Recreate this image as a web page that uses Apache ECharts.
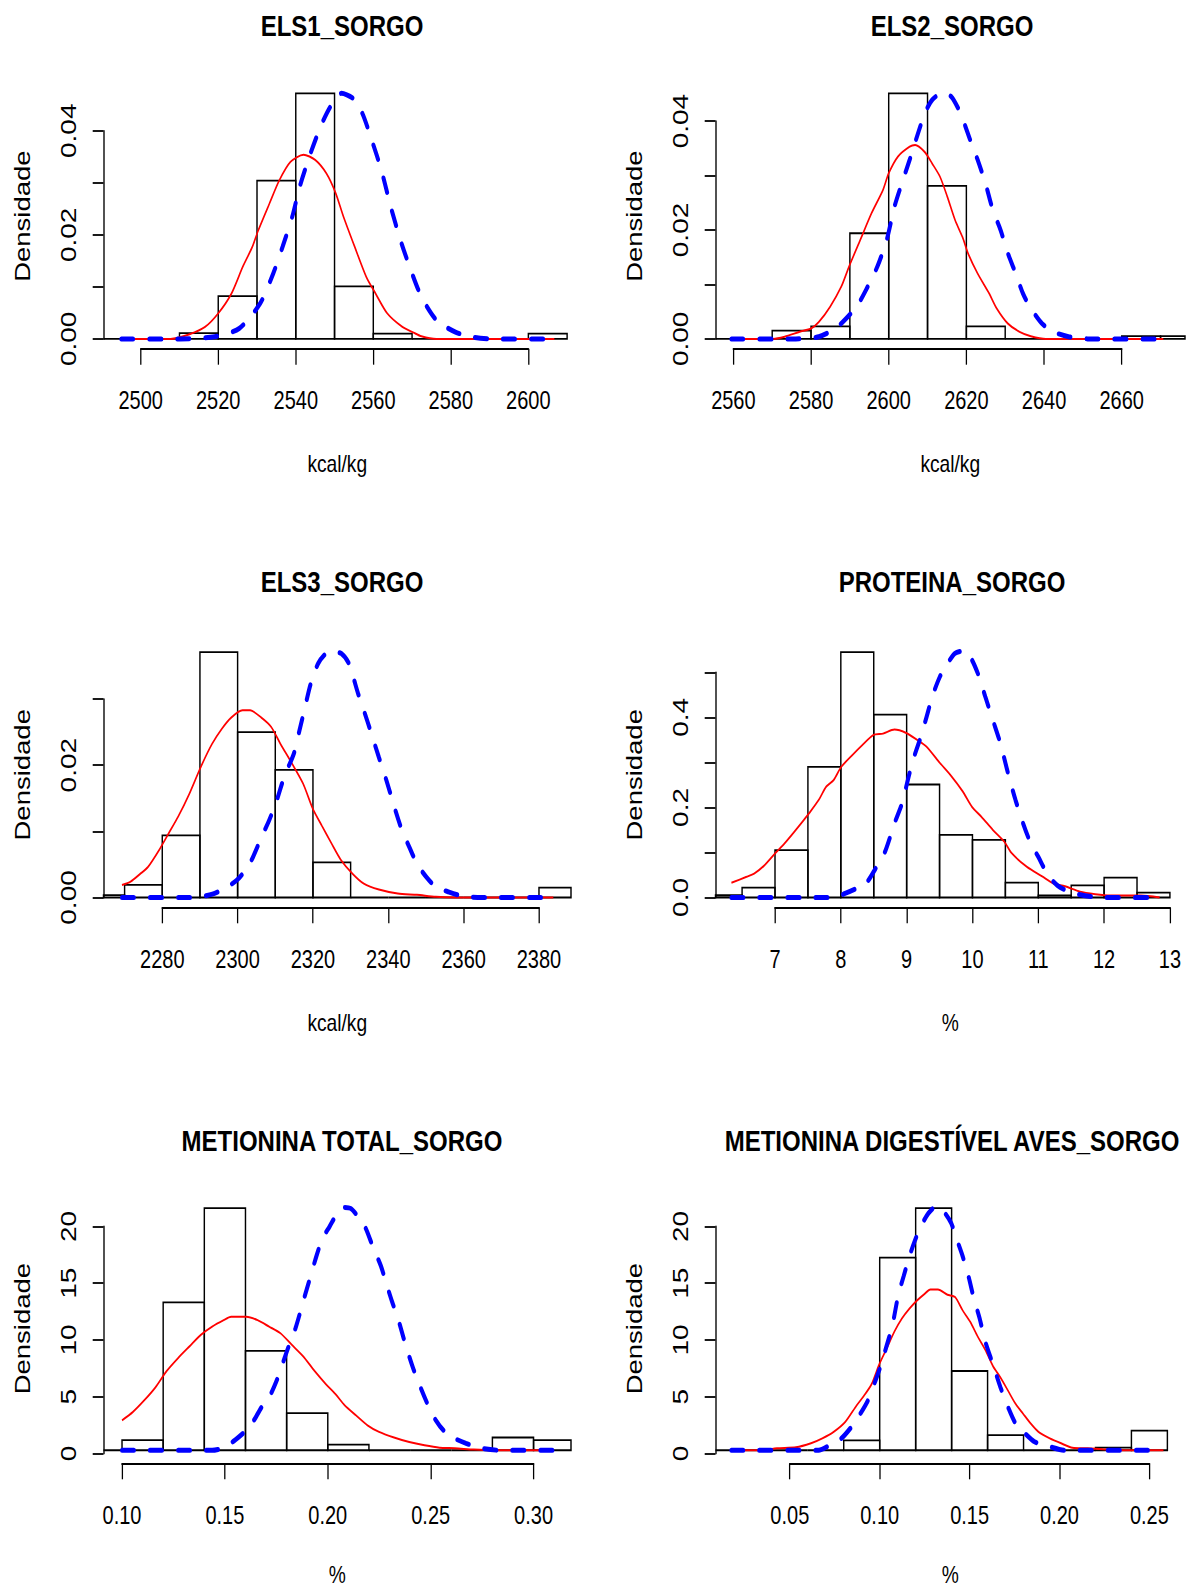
<!DOCTYPE html>
<html>
<head>
<meta charset="utf-8">
<title>Sorgo - histogramas</title>
<script src="https://cdn.jsdelivr.net/npm/echarts@6/dist/echarts.min.js"></script>
<style>
  html, body { margin: 0; padding: 0; background: #fff; overflow: hidden; }
  /* the original figure is squeezed horizontally (narrow lettering), so draw wide and squeeze */
  #chart { width: 1489px; height: 1588px; transform: scaleX(0.8); transform-origin: 0 0; }
</style>
</head>
<body>
<div id="chart"></div>
<script>
// ---- data ----
// ELS1_SORGO
var els1Edges = [2490, 2500, 2510, 2520, 2530, 2540, 2550, 2560, 2570, 2580, 2590, 2600, 2610];
var els1Dens = [0, 0, 0.0011, 0.0082, 0.0304, 0.0472, 0.0101, 0.001, 0, 0, 0, 0.001];
var els1Kde = [[2496,0],[2507.7,0],[2512.6,0.0009],[2516.6,0.0023],[2520,0.0049],[2523.4,0.0087],[2526.3,0.0138],[2528.8,0.0177],[2530.3,0.0208],[2533.2,0.026],[2535.7,0.0304],[2538.6,0.034],[2542,0.0354],[2545,0.0344],[2547.9,0.0318],[2550.3,0.028],[2552.3,0.0235],[2555.2,0.0177],[2558.2,0.0119],[2560.6,0.0087],[2563.6,0.0049],[2567.5,0.0023],[2570.4,0.0012],[2572.4,0.0005],[2576.3,0],[2606.7,0]];
var els1Norm = [[2495,0],[2510.2,0],[2519,0.0004],[2525.4,0.002],[2530.8,0.0068],[2534.2,0.0126],[2536.6,0.0177],[2539.1,0.0235],[2541,0.0292],[2543.5,0.035],[2546.4,0.0408],[2548.9,0.0446],[2551.8,0.0472],[2554.8,0.0462],[2557.2,0.0433],[2559.6,0.0382],[2562.1,0.0324],[2564.5,0.0254],[2567,0.019],[2569.4,0.0138],[2572.4,0.0081],[2576.3,0.0036],[2581.2,0.0013],[2586.1,0.0003],[2591,0],[2605.7,0]];

// ELS2_SORGO
var els2Edges = [2550, 2560, 2570, 2580, 2590, 2600, 2610, 2620, 2630, 2640, 2650, 2660, 2670, 2680];
var els2Dens = [0, 0, 0.0015, 0.0023, 0.0194, 0.0451, 0.0281, 0.0023, 0, 0, 0, 0.0005, 0.0005];
var els2Kde = [[2560,0],[2570.2,0],[2573.2,0.0004],[2577.1,0.0013],[2580,0.0019],[2582,0.0031],[2584.9,0.0059],[2587.8,0.0096],[2589.8,0.0133],[2592.7,0.0182],[2595.6,0.0231],[2598.5,0.0273],[2600,0.0304],[2602.4,0.0335],[2605.4,0.0353],[2606.8,0.0356],[2609.3,0.0343],[2611.2,0.0322],[2613.2,0.0298],[2615.1,0.0261],[2617.1,0.0218],[2619,0.0187],[2620.5,0.0156],[2622.9,0.012],[2625.9,0.0083],[2627.8,0.0056],[2630.7,0.0028],[2633.7,0.0013],[2636.6,0.0005],[2640.5,0],[2670.7,0]];
var els2Norm = [[2559.5,0],[2576.1,0],[2582,0.0004],[2586.8,0.0022],[2591.7,0.0059],[2594.6,0.0096],[2597.1,0.0133],[2599.5,0.0182],[2601.5,0.0243],[2603.4,0.0286],[2605.4,0.0329],[2607.3,0.0372],[2609.3,0.0414],[2611.2,0.0439],[2613.7,0.0451],[2616.1,0.0445],[2618.5,0.0414],[2621,0.0365],[2622.9,0.0329],[2624.9,0.0286],[2626.8,0.0237],[2628.8,0.02],[2630.7,0.0157],[2632.7,0.012],[2634.6,0.0083],[2636.6,0.0056],[2639.5,0.0028],[2642.4,0.0013],[2646.3,0.0004],[2651.2,0],[2670.7,0]];

// ELS3_SORGO
var els3Edges = [2260, 2270, 2280, 2290, 2300, 2310, 2320, 2330, 2340, 2350, 2360, 2370, 2380, 2390];
var els3Dens = [0.00035, 0.0019, 0.0094, 0.0371, 0.025, 0.0193, 0.0053, 0, 0, 0, 0, 0, 0.0015];
var els3Kde = [[2269.3,0.0019],[2271.6,0.0024],[2274.2,0.0036],[2276.2,0.0046],[2279.2,0.0072],[2281.7,0.0097],[2284.2,0.0122],[2287.2,0.0157],[2290.2,0.0197],[2293.2,0.0232],[2295.8,0.0255],[2298.3,0.0272],[2301.3,0.0283],[2303.3,0.0283],[2306.3,0.0272],[2308.9,0.0258],[2311.4,0.0232],[2314.4,0.0203],[2317.4,0.0172],[2319.9,0.0135],[2322.4,0.0108],[2324.9,0.0082],[2327.4,0.0057],[2330.5,0.0036],[2333.5,0.0021],[2337.5,0.0012],[2342.5,0.0006],[2347.6,0.0004],[2352.6,0.0001],[2357.7,0],[2383.8,0]];
var els3Norm = [[2269.3,0],[2288.2,0],[2293.3,0.0005],[2297.3,0.0016],[2300.3,0.0029],[2303.3,0.0052],[2306.4,0.0092],[2308.4,0.0117],[2310.4,0.0147],[2312.4,0.0183],[2314.9,0.0217],[2316.4,0.0252],[2317.9,0.0288],[2319.4,0.0323],[2321.4,0.0354],[2323.5,0.0369],[2325.5,0.0371],[2327.5,0.0369],[2329.5,0.0354],[2332,0.0308],[2333.5,0.0283],[2335.5,0.0248],[2337.5,0.0212],[2339.5,0.0177],[2341.6,0.0137],[2343.6,0.0102],[2345.6,0.0076],[2347.6,0.0051],[2350.1,0.0031],[2352.6,0.0016],[2355.7,0.0009],[2359.7,0.0002],[2364.7,0],[2382.8,0]];

// PROTEINA_SORGO
var protEdges = [6, 6.5, 7, 7.5, 8, 8.5, 9, 9.5, 10, 10.5, 11, 11.5, 12, 12.5, 13];
var protDens = [0.005, 0.022, 0.105, 0.29, 0.545, 0.406, 0.251, 0.139, 0.128, 0.033, 0.0045, 0.027, 0.044, 0.011];
var protKde = [[6.338,0.0326],[6.568,0.0459],[6.683,0.053],[6.827,0.0696],[7.0,0.0978],[7.144,0.12],[7.288,0.145],[7.432,0.171],[7.518,0.187],[7.662,0.216],[7.777,0.246],[7.892,0.261],[8.006,0.29],[8.18,0.317],[8.324,0.338],[8.497,0.361],[8.641,0.364],[8.814,0.373],[8.986,0.366],[9.159,0.35],[9.303,0.335],[9.504,0.299],[9.677,0.27],[9.85,0.236],[9.994,0.201],[10.138,0.179],[10.31,0.15],[10.483,0.124],[10.598,0.098],[10.828,0.068],[11.059,0.047],[11.231,0.031],[11.404,0.025],[11.634,0.013],[11.865,0.0074],[12.095,0.0044],[12.556,0.0044],[12.843,0]];
var protNorm = [[6.338,0],[7.892,0],[8.065,0.0089],[8.238,0.02],[8.382,0.031],[8.526,0.064],[8.67,0.101],[8.814,0.164],[8.929,0.209],[9.044,0.276],[9.13,0.32],[9.216,0.357],[9.303,0.401],[9.389,0.446],[9.504,0.49],[9.619,0.519],[9.734,0.542],[9.879,0.548],[9.994,0.527],[10.109,0.487],[10.195,0.446],[10.31,0.394],[10.425,0.342],[10.54,0.276],[10.655,0.216],[10.771,0.164],[10.886,0.12],[11.001,0.09],[11.145,0.05],[11.289,0.027],[11.462,0.013],[11.692,0.0044],[11.98,0],[12.786,0]];

// METIONINA TOTAL_SORGO
var metEdges = [0.08, 0.10, 0.12, 0.14, 0.16, 0.18, 0.20, 0.22, 0.24, 0.26, 0.28, 0.30, 0.32];
var metDens = [0, 0.91, 13.2, 21.6, 8.86, 3.31, 0.5, 0, 0, 0, 1.14, 0.91];
var metKde = [[0.1,2.67],[0.1052,3.4],[0.1107,4.43],[0.1162,5.6],[0.1217,7.07],[0.1273,8.24],[0.1328,9.27],[0.1383,10.29],[0.1438,11.03],[0.1494,11.61],[0.153,11.91],[0.1604,11.91],[0.1659,11.61],[0.1715,11.03],[0.177,10.44],[0.1825,9.41],[0.188,8.39],[0.1936,7.07],[0.1991,5.9],[0.2037,5.02],[0.2083,3.99],[0.2138,3.1],[0.2193,2.23],[0.2249,1.64],[0.2322,1.14],[0.2396,0.73],[0.247,0.44],[0.2543,0.23],[0.2617,0.18],[0.2709,0.06],[0.2801,0],[0.3096,0]];
var metNorm = [[0.1,0],[0.1438,0],[0.1494,0.23],[0.1549,0.91],[0.1604,1.79],[0.1641,2.67],[0.1678,3.84],[0.1715,4.72],[0.1751,6.19],[0.1779,7.65],[0.1807,9.12],[0.1843,10.88],[0.1871,12.64],[0.1889,13.81],[0.1917,15.57],[0.1945,17.33],[0.1972,18.8],[0.2009,19.97],[0.2046,21.14],[0.2074,21.67],[0.2111,21.58],[0.2147,20.85],[0.2184,19.82],[0.2221,18.06],[0.2258,16.45],[0.2285,14.84],[0.2313,13.23],[0.2341,11.76],[0.2378,9.41],[0.2414,7.36],[0.2451,5.6],[0.2488,3.99],[0.2525,2.67],[0.2562,1.79],[0.2617,1.06],[0.2672,0.62],[0.2746,0.18],[0.2838,0],[0.3096,0]];

// METIONINA DIGESTIVEL AVES_SORGO
var metDigEdges = [0, 0.02, 0.04, 0.06, 0.08, 0.10, 0.12, 0.14, 0.16, 0.18, 0.20, 0.22, 0.24, 0.26];
var metDigDens = [0, 0, 0, 0, 0.88, 17.18, 21.61, 7.07, 1.35, 0, 0, 0.23, 1.76];
var metDigKde = [[0.0175,0],[0.0344,0],[0.0428,0.18],[0.0534,0.26],[0.0618,0.62],[0.0681,1.06],[0.0744,1.64],[0.0808,2.52],[0.0871,3.99],[0.0913,4.87],[0.0955,5.9],[0.0997,7.65],[0.104,9.12],[0.1082,10.59],[0.1124,11.76],[0.1166,12.64],[0.1208,13.37],[0.125,13.96],[0.1282,14.34],[0.1324,14.34],[0.1377,13.87],[0.1419,13.67],[0.1461,12.49],[0.1503,11.47],[0.1545,10.15],[0.1587,8.97],[0.163,7.51],[0.1672,6.48],[0.1714,5.31],[0.1756,4.13],[0.1798,3.25],[0.184,2.38],[0.1883,1.64],[0.1946,1.06],[0.2009,0.62],[0.2072,0.23],[0.2157,0.18],[0.2241,0.09],[0.2367,0],[0.2578,0]];
var metDigNorm = [[0.0175,0],[0.066,0],[0.0723,0.47],[0.0787,1.06],[0.085,2.23],[0.0892,3.25],[0.0934,4.43],[0.0976,6.19],[0.1008,7.65],[0.104,9.41],[0.1071,11.17],[0.1103,13.81],[0.1134,15.57],[0.1166,17.33],[0.1198,18.8],[0.1229,19.97],[0.1271,21.14],[0.1313,21.73],[0.1356,21.29],[0.1398,20.26],[0.1429,18.8],[0.1461,17.33],[0.1493,15.57],[0.1524,13.52],[0.1556,11.76],[0.1587,9.71],[0.163,7.65],[0.1672,5.6],[0.1714,3.84],[0.1756,2.38],[0.1809,1.49],[0.1861,0.76],[0.1946,0.32],[0.203,0],[0.2578,0]];

// axis ticks: [first, last, step] and the y values that carry a label
var els1XTicks = [2500, 2600, 20], els1YTicks = [0.04, 0.01], els1YLabels = [0, 0.02, 0.04];
var els2XTicks = [2560, 2660, 20], els2YTicks = [0.04, 0.01], els2YLabels = [0, 0.02, 0.04];
var els3XTicks = [2280, 2380, 20], els3YTicks = [0.03, 0.01], els3YLabels = [0, 0.02];
var protXTicks = [7, 13, 1], protYTicks = [0.5, 0.1], protYLabels = [0, 0.2, 0.4];
var metXTicks = [0.10, 0.30, 0.05], metYTicks = [20, 5], metYLabels = [0, 5, 10, 15, 20];
var metDigXTicks = [0.05, 0.25, 0.05], metDigYTicks = [20, 5], metDigYLabels = [0, 5, 10, 15, 20];

// ---- layout, in pixels of the final picture ----
var SX = 0.8;                       // same as the css scaleX
var COLS = [[103.5, 571], [715.5, 1185]];
var ROWS = [[83.5, 348.7], [642.3, 907.3], [1197.3, 1463.3]];
var TITLE_X = [338, 948];
var TITLE_Y = [25, 581, 1140];
var FONT = "'Liberation Sans', Arial, sans-serif";

var panels = [
  { title: 'ELS1_SORGO', xName: 'kcal/kg', edges: els1Edges, dens: els1Dens, kde: els1Kde, norm: els1Norm,
    xRange: [2490.4, 2611.0], yLim: 0.0472, xTicks: els1XTicks, xDig: 0, yTicks: els1YTicks, yLabels: els1YLabels, yDig: 2, col: 0, row: 0 },
  { title: 'ELS2_SORGO', xName: 'kcal/kg', edges: els2Edges, dens: els2Dens, kde: els2Kde, norm: els2Norm,
    xRange: [2555.4, 2676.3], yLim: 0.0451, xTicks: els2XTicks, xDig: 0, yTicks: els2YTicks, yLabels: els2YLabels, yDig: 2, col: 1, row: 0 },
  { title: 'ELS3_SORGO', xName: 'kcal/kg', edges: els3Edges, dens: els3Dens, kde: els3Kde, norm: els3Norm,
    xRange: [2264.4, 2388.5], yLim: 0.0371, xTicks: els3XTicks, xDig: 0, yTicks: els3YTicks, yLabels: els3YLabels, yDig: 2, col: 0, row: 1 },
  { title: 'PROTEINA_SORGO', xName: '%', edges: protEdges, dens: protDens, kde: protKde, norm: protNorm,
    xRange: [6.096, 13.229], yLim: 0.545, xTicks: protXTicks, xDig: 0, yTicks: protYTicks, yLabels: protYLabels, yDig: 1, col: 1, row: 1 },
  { title: 'METIONINA TOTAL_SORGO', xName: '%', edges: metEdges, dens: metDens, kde: metKde, norm: metNorm,
    xRange: [0.091, 0.3182], yLim: 21.7, xTicks: metXTicks, xDig: 2, yTicks: metYTicks, yLabels: metYLabels, yDig: 0, col: 0, row: 2 },
  { title: 'METIONINA DIGESTÍVEL AVES_SORGO', xName: '%', edges: metDigEdges, dens: metDigDens, kde: metDigKde, norm: metDigNorm,
    xRange: [0.00868, 0.2698], yLim: 21.7, xTicks: metDigXTicks, xDig: 2, yTicks: metDigYTicks, yLabels: metDigYLabels, yDig: 0, col: 1, row: 2 }
];

// histogram bar, cut at the plot region like R does
function renderBar(params, api) {
  var p0 = api.coord([api.value(0), 0]);
  var p1 = api.coord([api.value(1), api.value(2)]);
  var cs = params.coordSys;
  var l = Math.max(p0[0], cs.x);
  var r = Math.min(p1[0], cs.x + cs.width);
  if (r <= l) return null;
  return {
    type: 'rect',
    shape: { x: l, y: p1[1], width: r - l, height: p0[1] - p1[1] },
    style: { fill: 'none', stroke: '#000', lineWidth: 1.8 }
  };
}

var grids = [], xAxes = [], yAxes = [], series = [], titles = [];

panels.forEach(function (p) {
  var L = COLS[p.col][0] / SX, R = COLS[p.col][1] / SX;
  var T = ROWS[p.row][0], B = ROWS[p.row][1];
  var W = R - L, H = B - T;
  var yMin = -0.04 * p.yLim, yMax = 1.04 * p.yLim;
  var kx = W / (p.xRange[1] - p.xRange[0]);
  var ky = H / (yMax - yMin);
  var g = grids.length;

  // plot region
  grids.push({ left: L, top: T, width: W, height: H });
  // x axis only between first and last tick
  grids.push({ left: L + (p.xTicks[0] - p.xRange[0]) * kx, top: T, width: (p.xTicks[1] - p.xTicks[0]) * kx, height: H });
  // y axis from 0 to last tick
  var yTopPx = B - (p.yTicks[0] - yMin) * ky;
  var yZeroPx = B - (0 - yMin) * ky;
  grids.push({ left: L, top: yTopPx, width: W, height: yZeroPx - yTopPx });

  xAxes.push({
    gridIndex: g, type: 'value', min: p.xRange[0], max: p.xRange[1],
    axisLine: { show: false }, axisTick: { show: false }, axisLabel: { show: false }, splitLine: { show: false },
    name: p.xName, nameLocation: 'middle', nameGap: 103,
    nameTextStyle: { fontFamily: FONT, fontSize: 24, color: '#000' }
  });
  yAxes.push({
    gridIndex: g, type: 'value', min: yMin, max: yMax,
    axisLine: { show: false }, axisTick: { show: false }, axisLabel: { show: false }, splitLine: { show: false },
    name: 'Densidade', nameLocation: 'middle', nameGap: 88,
    nameTextStyle: { fontFamily: FONT, fontSize: 27.5, color: '#000' }
  });

  xAxes.push({
    gridIndex: g + 1, type: 'value', min: p.xTicks[0], max: p.xTicks[1], interval: p.xTicks[2],
    axisLine: { onZero: false, lineStyle: { color: '#000', width: 1.8 } },
    axisTick: { length: 16, lineStyle: { color: '#000', width: 1.6 } },
    axisLabel: {
      margin: 40, fontFamily: FONT, fontSize: 25, color: '#000',
      formatter: function (v) { return v.toFixed(p.xDig); }
    },
    splitLine: { show: false }
  });
  yAxes.push({ gridIndex: g + 1, show: false, min: 0, max: 1 });

  xAxes.push({ gridIndex: g + 2, show: false, min: 0, max: 1 });
  yAxes.push({
    gridIndex: g + 2, type: 'value', min: 0, max: p.yTicks[0], interval: p.yTicks[1],
    axisLine: { onZero: false, lineStyle: { color: '#000', width: 1.7 } },
    axisTick: { length: 13.5, lineStyle: { color: '#000', width: 1.8 } },
    axisLabel: {
      rotate: 90, margin: 30, fontFamily: FONT, fontSize: 28, color: '#000',
      formatter: function (v) {
        var hit = p.yLabels.some(function (t) { return Math.abs(t - v) < 1e-9; });
        return hit ? v.toFixed(p.yDig) : '';
      }
    },
    splitLine: { show: false }
  });

  var bins = p.dens.map(function (d, k) { return [p.edges[k], p.edges[k + 1], d]; });
  series.push({
    type: 'custom', xAxisIndex: g, yAxisIndex: g, renderItem: renderBar,
    data: bins, encode: { x: [0, 1], y: 2 }, z: 2, silent: true
  });
  series.push({
    type: 'line', xAxisIndex: g, yAxisIndex: g, data: p.kde, showSymbol: false, smooth: 0.25,
    lineStyle: { color: '#ff0000', width: 2 }, z: 3, silent: true
  });
  series.push({
    type: 'line', xAxisIndex: g, yAxisIndex: g, data: p.norm, showSymbol: false, smooth: 0.25,
    lineStyle: { color: '#0000ff', width: 5, type: [15, 20], cap: 'round' }, z: 4, silent: true
  });

  titles.push({
    text: p.title, left: TITLE_X[p.col] / SX, top: TITLE_Y[p.row] - 20, textAlign: 'center',
    textStyle: { fontFamily: FONT, fontWeight: 'bold', fontSize: 30, color: '#000' }
  });
});

var chart = echarts.init(document.getElementById('chart'), null, { renderer: 'svg' });
chart.setOption({
  backgroundColor: '#fff',
  animation: false,
  title: titles,
  grid: grids,
  xAxis: xAxes,
  yAxis: yAxes,
  series: series
});
</script>
</body>
</html>
